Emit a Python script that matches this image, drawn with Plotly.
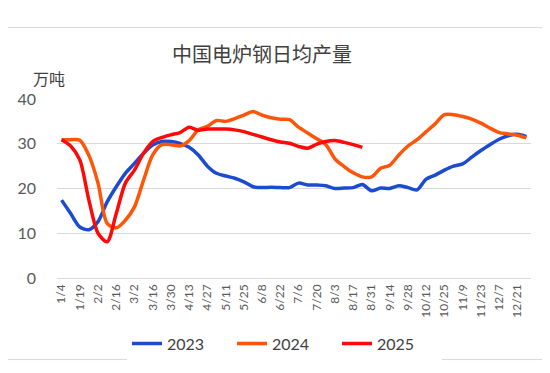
import plotly.graph_objects as go

dates = ["1/4", "1/11", "1/19", "1/26", "2/2", "2/9", "2/16", "2/23", "3/2", "3/9",
         "3/16", "3/23", "3/30", "4/6", "4/13", "4/20", "4/27", "5/4", "5/11", "5/18",
         "5/25", "6/1", "6/8", "6/15", "6/22", "6/29", "7/6", "7/13", "7/20", "7/27",
         "8/3", "8/10", "8/17", "8/24", "8/31", "9/7", "9/14", "9/21", "9/28", "10/5",
         "10/12", "10/19", "10/25", "11/2", "11/9", "11/16", "11/23", "11/30", "12/7", "12/14",
         "12/21", "12/28"]
tick_labels = dates[::2]

y2023 = [17.4, 14.4, 11.4, 10.8, 12.6, 17.0, 20.4, 23.4, 25.6, 27.9,
         29.7, 30.5, 30.5, 30.1, 29.2, 27.5, 25.0, 23.4, 22.8, 22.3,
         21.5, 20.4, 20.2, 20.3, 20.2, 20.2, 21.2, 20.8, 20.8, 20.6,
         20.0, 20.1, 20.2, 20.9, 19.5, 20.1, 20.0, 20.6, 20.2, 19.7,
         22.1, 23.0, 24.1, 25.0, 25.5, 27.0, 28.5, 29.8, 31.0, 31.8,
         32.1, 31.6]
y2024 = [30.9, 30.9, 30.8, 27.4, 21.2, 12.2, 11.2, 12.9, 15.9, 21.9,
         27.5, 29.8, 29.8, 29.5, 30.7, 33.1, 33.9, 35.2, 35.0, 35.6,
         36.4, 37.2, 36.4, 35.8, 35.5, 35.4, 33.7, 32.4, 31.1, 29.8,
         26.6, 24.9, 23.5, 22.6, 22.6, 24.5, 25.2, 27.5, 29.5, 30.9,
         32.7, 34.5, 36.5, 36.5, 36.1, 35.5, 34.6, 33.5, 32.5, 32.2,
         31.9, 31.3]
y2025 = [30.9, 29.5, 26.4, 17.4, 10.0, 8.1, 14.4, 21.2, 24.1, 27.9,
         30.5, 31.4, 32.0, 32.5, 33.7, 33.0, 33.3, 33.3, 33.3, 33.1,
         32.7, 32.1, 31.5, 30.9, 30.4, 30.1, 29.4, 29.0, 29.9, 30.5,
         30.7, 30.3, 29.8, 29.2]

series = [("2023", y2023, "#1A4BD0"), ("2024", y2024, "#FF5508"), ("2025", y2025, "#FF0808")]

# page body has an 8px margin, so figure coords = screen coords - 8
OFF = 8
PL, PR, PT, PB = 57 - OFF, 531 - OFF, 99.3 - OFF, 277.7 - OFF
PW, PH = PR - PL, PB - PT

def px(sx):
    return (sx - OFF - PL) / PW

def py(sy):
    return (PB - (sy - OFF)) / PH

fig = go.Figure()
for name, ys, color in series:
    fig.add_trace(go.Scatter(x=dates[:len(ys)], y=ys, name=name, mode="lines",
                             line=dict(color=color, width=3.5, shape="spline", smoothing=0.8)))

fig.update_layout(
    width=550, height=373,
    margin=dict(l=PL, r=550 - PR, t=PT, b=373 - PB, autoexpand=False),
    paper_bgcolor="white", plot_bgcolor="white",
    title=dict(text="中国电炉钢日均产量", x=(262 - OFF) / 550, xanchor="center",
               y=1 - (55 - OFF) / 373, yanchor="middle",
               font=dict(family="Noto Sans CJK SC", size=20, color="#404040")),
    showlegend=True,
    legend=dict(orientation="h", x=px(127), xanchor="left", y=py(343), yanchor="middle",
                font=dict(family="Lato, Noto Sans CJK SC", size=16, color="#404040"),
                entrywidth=60, entrywidthmode="pixels", itemwidth=30),
    xaxis=dict(type="category", categoryorder="array", categoryarray=dates,
               tickmode="array", tickvals=tick_labels, ticktext=tick_labels,
               tickangle=-90, showgrid=False, showline=False, ticks="", ticklabelstandoff=3,
               tickfont=dict(family="Lato, Noto Sans CJK SC", size=12, color="#595959"),
               range=[-0.5, len(dates) - 0.5]),
    yaxis=dict(range=[0, 40], tickvals=[0, 10, 20, 30, 40], showgrid=True, gridcolor="#D9D9D9",
               gridwidth=1, zeroline=True, zerolinecolor="#D9D9D9", zerolinewidth=1,
               showline=False, ticks="", ticklabelstandoff=20,
               tickfont=dict(family="Lato, Noto Sans CJK SC", size=16, color="#595959")),
    shapes=[dict(type="rect", xref="paper", yref="paper",
                 x0=px(3), x1=px(547), y0=py(359), y1=py(28),
                 line=dict(color="#D9D9D9", width=1), fillcolor="rgba(0,0,0,0)", layer="below")],
    annotations=[dict(text="万吨", xref="paper", yref="paper", x=px(49), y=py(78),
                      xanchor="center", yanchor="middle", showarrow=False,
                      font=dict(family="Noto Sans CJK SC", size=16, color="#404040"))],
)

fig.write_html("out.html")
